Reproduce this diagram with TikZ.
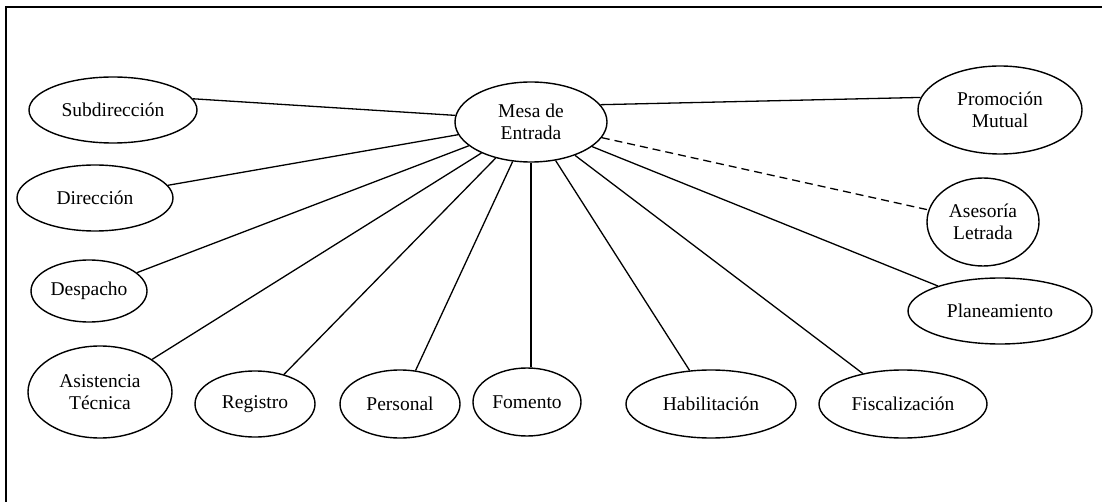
\documentclass[tikz,border=0pt]{standalone}
\usepackage{fontspec}
\setmainfont{Liberation Serif}
\usetikzlibrary{shapes.geometric}
\begin{document}
\begin{tikzpicture}[x=1pt,y=-1pt,
  unit/.style={ellipse, draw, line width=1.4pt, inner sep=0pt, align=center,
    font=\fontsize{19.5}{22}\selectfont},
  link/.style={line width=1.3pt},
  weak/.style={line width=1.3pt, dash pattern=on 8pt off 5pt}]
\useasboundingbox (0,0) rectangle (1102,502);
\coordinate (fa) at (6,502);
\coordinate (fb) at (6,7);
\coordinate (fc) at (1102,7);
\draw[line width=1.5pt] (fa) -- (fb) -- (fc);

\node[unit, minimum width=152pt, minimum height=80pt] (mesa) at (531,122) {Mesa de\\Entrada};
\node[unit, minimum width=168pt, minimum height=66pt] (sub) at (113,110) {Subdirección};
\node[unit, minimum width=156pt, minimum height=66pt] (dir) at (95,198) {Dirección};
\node[unit, minimum width=116pt, minimum height=62pt] (desp) at (89,291) {Despacho};
\node[unit, minimum width=144pt, minimum height=92pt] (asis) at (100,392) {Asistencia\\Técnica};
\node[unit, minimum width=120pt, minimum height=66pt] (reg) at (255,404) {Registro};
\node[unit, minimum width=120pt, minimum height=68pt] (pers) at (400,404) {Personal};
\node[unit, minimum width=108pt, minimum height=68pt] (fom) at (527,402) {Fomento};
\node[unit, minimum width=170pt, minimum height=68pt] (hab) at (711,404) {Habilitación};
\node[unit, minimum width=168pt, minimum height=68pt] (fis) at (903,404) {Fiscalización};
\node[unit, minimum width=184pt, minimum height=66pt] (plan) at (1000,311) {Planeamiento};
\node[unit, minimum width=112pt, minimum height=88pt] (ase) at (983,222) {Asesoría\\Letrada};
\node[unit, minimum width=164pt, minimum height=88pt] (prom) at (1000,110) {Promoción\\Mutual};

\draw[link] (sub.8) -- (mesa.175);
\draw[link] (dir) -- (mesa);
\draw[link] (desp) -- (mesa);
\draw[link] (asis) -- (mesa);
\draw[link] (reg) -- (mesa);
\draw[link] (pers) -- (mesa);
\draw[link] (fom.north -| mesa.south) -- (mesa.south);
\draw[link] (hab) -- (mesa);
\draw[link] (fis) -- (mesa);
\draw[link] (plan) -- (mesa);
\draw[weak] (mesa) -- (ase);
\draw[link] (prom.171) -- (mesa.14);
\end{tikzpicture}
\end{document}
